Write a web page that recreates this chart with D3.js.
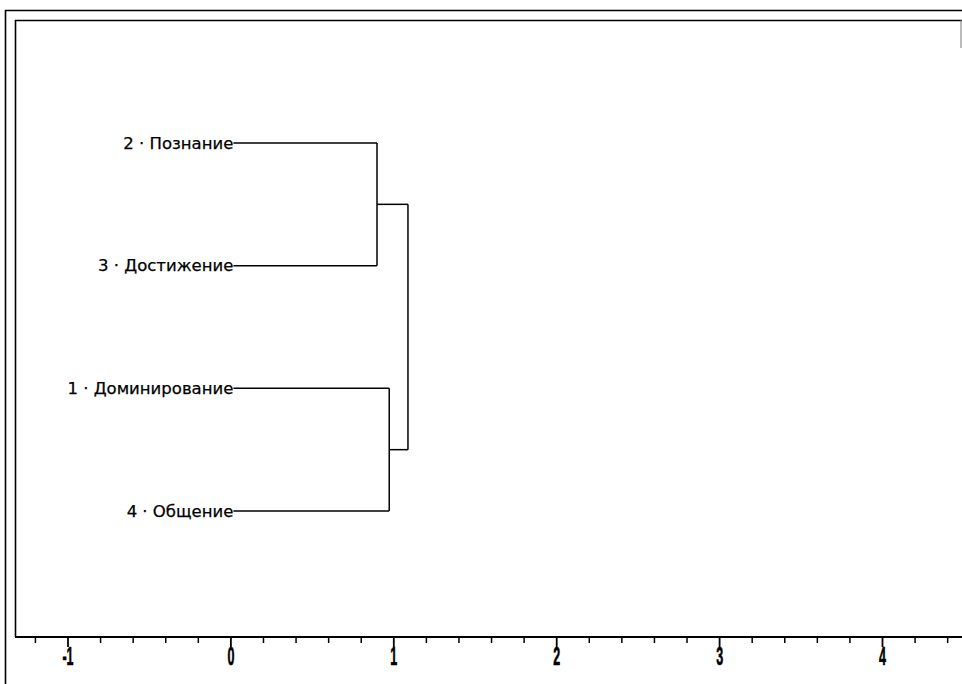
<!DOCTYPE html>
<html lang="ru">
<head>
<meta charset="UTF-8">
<title>Дендрограмма</title>
<script src="https://d3js.org/d3.v7.min.js"></script>
<style>
  body { margin: 0; background: #fff; }
  svg { display: block; }
</style>
</head>
<body>
<svg width="962" height="684"></svg>
<script>
// leaf labels and the order they appear top to bottom
const leafLabels = ['1 · Доминирование', '2 · Познание', '3 · Достижение', '4 · Общение'];
const leafOrder = [1, 2, 0, 3];
// linkage: [left node, right node, merge distance]; new nodes get ids 4, 5, 6
const merges = [
  [1, 2, 0.90],
  [0, 3, 0.975],
  [4, 5, 1.09]
];
const majorTicks = [-1, 0, 1, 2, 3, 4];
const minorTicks = [-1.2, -0.8, -0.6, -0.4, -0.2, 0.2, 0.4, 0.6, 0.8, 1.2, 1.4, 1.6, 1.8,
  2.2, 2.4, 2.6, 2.8, 3.2, 3.4, 3.6, 3.8, 4.2, 4.4];

const svg = d3.select('svg');
const axisY = 637;

const x = d3.scaleLinear().domain([-1, 4]).range([67.5, 882]);
const y = d3.scalePoint().domain(leafOrder).range([143, 511]);

// frames
svg.append('path')
  .attr('d', 'M5.5,684 V10.5 H962')
  .attr('fill', 'none').attr('stroke', '#000').attr('stroke-width', 1.6);
svg.append('path')
  .attr('d', `M15.5,${axisY} V20.5 H962`)
  .attr('fill', 'none').attr('stroke', '#000').attr('stroke-width', 1.6);
svg.append('line')
  .attr('x1', 961).attr('x2', 961).attr('y1', 20).attr('y2', 48)
  .attr('stroke', '#777').attr('stroke-width', 1);

// axis
const gAxis = svg.append('g').attr('transform', `translate(0,${axisY})`);
gAxis.append('line')
  .attr('x1', 15).attr('x2', 962)
  .attr('stroke', '#000').attr('stroke-width', 1.8);
gAxis.append('g')
  .call(d3.axisBottom(x).tickValues(minorTicks).tickSize(6).tickFormat(''))
  .call(g => g.select('.domain').remove())
  .selectAll('line').attr('stroke-width', 1.5);
gAxis.append('g')
  .call(d3.axisBottom(x).tickValues(majorTicks).tickSize(10).tickFormat(d3.format('d')).tickPadding(0))
  .call(g => g.select('.domain').remove())
  .call(g => g.selectAll('line').attr('stroke-width', 1.8))
  .selectAll('text')
  .attr('font-family', '"Liberation Sans", Arial, sans-serif')
  .attr('font-weight', 'bold')
  .attr('font-size', 25)
  .attr('fill', '#000')
  .attr('stroke', '#000').attr('stroke-width', 0.6)
  .attr('transform', 'scale(0.5,1)')
  .text(d => d < 0 ? '-' + Math.abs(d) : d);

// build node positions from the linkage
const nodes = leafLabels.map((label, i) => ({ id: i, label, h: 0, yy: y(i) }));
merges.forEach(([a, b, h], k) => {
  nodes.push({ id: 4 + k, h, a, b, yy: (nodes[a].yy + nodes[b].yy) / 2 });
});

const g = svg.append('g')
  .attr('fill', 'none').attr('stroke', '#000').attr('stroke-width', 1.5);

// leaf stubs and elbows
nodes.filter(n => n.a !== undefined).forEach(n => {
  [nodes[n.a], nodes[n.b]].forEach(c => {
    const x0 = c.h === 0 ? x(0) + 3 : x(c.h);
    g.append('path').attr('d', `M${x0},${c.yy} H${x(n.h)}`);
  });
  g.append('path').attr('d', `M${x(n.h)},${nodes[n.a].yy} V${nodes[n.b].yy}`);
});

// labels
svg.append('g')
  .selectAll('text')
  .data(nodes.filter(n => n.label))
  .join('text')
  .attr('x', x(0) + 3)
  .attr('y', d => d.yy)
  .attr('dy', '0.35em')
  .attr('text-anchor', 'end')
  .attr('font-family', '"DejaVu Sans", sans-serif')
  .attr('font-size', 16.5)
  .attr('fill', '#000')
  .attr('stroke', '#000').attr('stroke-width', 0.25)
  .text(d => d.label);
</script>
</body>
</html>
